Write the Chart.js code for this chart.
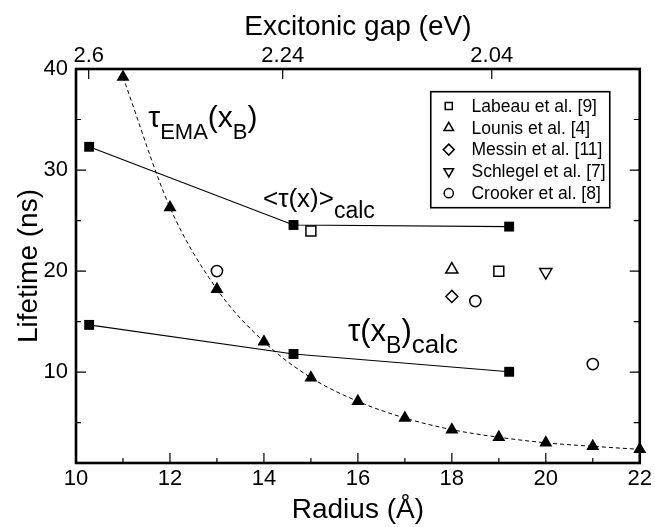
<!DOCTYPE html>
<html>
<head>
<meta charset="utf-8">
<script src="https://cdn.jsdelivr.net/npm/chart.js@4/dist/chart.umd.min.js"></script>
<style>
html,body{margin:0;padding:0;background:#fff;}
#wrap{width:655px;height:527px;position:relative;}
</style>
</head>
<body>
<div id="wrap"><canvas id="c"></canvas></div>
<script>
// ---------- data ----------
const radiusEMA = [11, 12, 13, 14, 15, 16, 17, 18, 19, 20, 21, 22];
const lifetimeEMA = [39.2, 26.3, 18.2, 13.0, 9.45, 7.1, 5.45, 4.3, 3.55, 3.0, 2.65, 2.35];

const radiusCalc = [10.28, 14.63, 19.22];
const lifetimeAvgCalc = [32.3, 24.56, 24.4];
const lifetimeBCalc = [14.67, 11.79, 10.03];

const radiusLabeau = [15, 19];
const lifetimeLabeau = [23.96, 19.98];
const radiusLounis = [18];
const lifetimeLounis = [20.15];
const radiusMessin = [18];
const lifetimeMessin = [17.49];
const radiusSchlegel = [20];
const lifetimeSchlegel = [19.9];
const radiusCrooker = [13, 18.5, 21];
const lifetimeCrooker = [20.0, 17.03, 10.79];

const xTickValues = [10, 12, 14, 16, 18, 20, 22];
const xMinorValues = [11, 13, 15, 17, 19, 21];
const yTickValues = [10, 20, 30, 40];
const yMinorValues = [5, 15, 25, 35];
const gapLabels = ['2.6', '2.24', '2.04'];
const gapRadius = [10.27, 14.40, 18.85];

const legendLabels = ['Labeau et al. [9]', 'Lounis et al. [4]', 'Messin et al. [11]', 'Schlegel et al. [7]', 'Crooker et al. [8]'];

// ---------- presentation ----------
const FONT = '"Liberation Sans", Arial, Helvetica, sans-serif';
const annotations = [
  {x: 11.54, y: 34.24, parts: [['τ', 30, 0], ['EMA', 22, 11.5], ['(x', 30, 0], ['B', 22, 11.5], [')', 30, 0]]},
  {x: 13.98, y: 26.35, parts: [['<τ(x)>', 26, 0], ['calc', 23, 11.5]]},
  {x: 15.79, y: 13.05, parts: [['τ(x', 31, 0], ['B', 23, 11.5], [')', 31, 0], ['calc', 26, 11.5]]}
];

function pts(xs, ys) { return xs.map((x, i) => ({x: x, y: ys[i]})); }

function openSet(label, xs, ys, style, radius, rotation, legendRadius) {
  return {
    label: label, data: pts(xs, ys), showLine: false,
    pointStyle: style, pointRadius: radius, pointRotation: rotation || 0,
    pointBackgroundColor: 'rgba(255,255,255,0)', pointBorderColor: '#000', pointBorderWidth: 1.5,
    clip: false, legendItem: true, legendRadius: legendRadius
  };
}

const datasets = [
  {
    label: 'EMA', data: pts(radiusEMA, lifetimeEMA), showLine: true,
    borderColor: '#000', borderWidth: 1, borderDash: [4, 3], cubicInterpolationMode: 'monotone',
    pointStyle: 'triangle', pointRadius: 7.5, pointBackgroundColor: '#000', pointBorderWidth: 0, clip: false
  },
  {
    label: 'avg calc', data: pts(radiusCalc, lifetimeAvgCalc), showLine: true,
    borderColor: '#000', borderWidth: 1.2, tension: 0,
    pointStyle: 'rect', pointRadius: 7, pointBackgroundColor: '#000', pointBorderWidth: 0, clip: false
  },
  {
    label: 'xB calc', data: pts(radiusCalc, lifetimeBCalc), showLine: true,
    borderColor: '#000', borderWidth: 1.2, tension: 0,
    pointStyle: 'rect', pointRadius: 7, pointBackgroundColor: '#000', pointBorderWidth: 0, clip: false
  },
  openSet(legendLabels[0], radiusLabeau, lifetimeLabeau, 'rect', 7, 0, 5),
  openSet(legendLabels[1], radiusLounis, lifetimeLounis, 'triangle', 7, 0, 5.5),
  openSet(legendLabels[2], radiusMessin, lifetimeMessin, 'rectRot', 6, 0, 5.5),
  openSet(legendLabels[3], radiusSchlegel, lifetimeSchlegel, 'triangle', 7, 180, 5.5),
  openSet(legendLabels[4], radiusCrooker, lifetimeCrooker, 'circle', 5.6, 0, 4.6)
];

const framePlugin = {
  id: 'frame',
  beforeDatasetsDraw(chart) {
    const {ctx, chartArea: a, scales} = chart;
    const xs = scales.x, ys = scales.y, x2 = scales.x2;
    ctx.save();
    ctx.strokeStyle = '#000';
    ctx.lineWidth = 1.2;
    ctx.beginPath();
    xTickValues.forEach(v => { const p = xs.getPixelForValue(v); ctx.moveTo(p, a.bottom); ctx.lineTo(p, a.bottom - 10); });
    xMinorValues.forEach(v => { const p = xs.getPixelForValue(v); ctx.moveTo(p, a.bottom); ctx.lineTo(p, a.bottom - 5); });
    gapRadius.forEach(v => { const p = x2.getPixelForValue(v); ctx.moveTo(p, a.top); ctx.lineTo(p, a.top + 10); });
    yTickValues.forEach(v => { const p = ys.getPixelForValue(v);
      ctx.moveTo(a.left, p); ctx.lineTo(a.left + 10, p); ctx.moveTo(a.right, p); ctx.lineTo(a.right - 10, p); });
    yMinorValues.forEach(v => { const p = ys.getPixelForValue(v);
      ctx.moveTo(a.left, p); ctx.lineTo(a.left + 5, p); ctx.moveTo(a.right, p); ctx.lineTo(a.right - 6, p); });
    ctx.stroke();
    ctx.lineWidth = 2.6;
    ctx.strokeRect(a.left, a.top, a.right - a.left, a.bottom - a.top);
    ctx.restore();
  }
};

const legendPlugin = {
  id: 'boxLegend',
  afterDatasetsDraw(chart) {
    const {ctx, chartArea: a} = chart;
    const items = chart.data.datasets.filter(d => d.legendItem);
    const boxW = 179, boxH = 116;
    const left = a.right - 30 - boxW, top = a.top + 22.7;
    ctx.save();
    ctx.fillStyle = '#fff';
    ctx.fillRect(left, top, boxW, boxH);
    ctx.strokeStyle = '#000';
    ctx.lineWidth = 1.6;
    ctx.strokeRect(left, top, boxW, boxH);
    ctx.font = '17.5px ' + FONT;
    ctx.textBaseline = 'middle';
    ctx.textAlign = 'left';
    items.forEach((d, i) => {
      const cy = top + 14.3 + i * 21.8;
      ctx.fillStyle = 'rgba(255,255,255,0)';
      ctx.strokeStyle = '#000';
      ctx.lineWidth = 1.5;
      const opts = {pointStyle: d.pointStyle, rotation: d.pointRotation, radius: d.legendRadius, borderWidth: 1.5};
      if (Chart.helpers && Chart.helpers.drawPoint) {
        Chart.helpers.drawPoint(ctx, opts, left + 18, cy);
      } else {
        ctx.beginPath(); ctx.arc(left + 18, cy, d.legendRadius, 0, Math.PI * 2); ctx.stroke();
      }
      ctx.fillStyle = '#000';
      ctx.fillText(d.label, left + 40.7, cy + 1);
    });
    ctx.restore();
  }
};

const annotationPlugin = {
  id: 'texts',
  afterDatasetsDraw(chart) {
    const {ctx, scales} = chart;
    ctx.save();
    ctx.fillStyle = '#000';
    ctx.textBaseline = 'alphabetic';
    ctx.textAlign = 'left';
    annotations.forEach(an => {
      let x = scales.x.getPixelForValue(an.x);
      const y = scales.y.getPixelForValue(an.y);
      an.parts.forEach(p => {
        ctx.font = p[1] + 'px ' + FONT;
        ctx.fillText(p[0], x, y + p[2]);
        x += ctx.measureText(p[0]).width;
      });
    });
    ctx.restore();
  }
};

const tickFont = {family: FONT, size: 22};
const titleFont = {family: FONT, size: 28};

new Chart(document.getElementById('c'), {
  type: 'scatter',
  data: {datasets: datasets},
  options: {
    responsive: true,
    maintainAspectRatio: false,
    animation: false,
    events: [],
    layout: {padding: {left: 0, right: 15, top: 0, bottom: 0}},
    plugins: {legend: {display: false}, tooltip: {enabled: false}},
    scales: {
      x: {
        type: 'linear', position: 'bottom', min: 10, max: 22,
        afterBuildTicks: s => { s.ticks = xTickValues.map(v => ({value: v})); },
        afterFit: s => { s.height = 64; },
        ticks: {autoSkip: false, maxRotation: 0, padding: 3, font: tickFont, color: '#000'},
        grid: {display: false, drawTicks: false},
        border: {display: false},
        title: {display: true, text: 'Radius (Å)', font: titleFont, color: '#000', padding: {top: 0, bottom: 0}}
      },
      x2: {
        type: 'linear', position: 'top', min: 10, max: 22,
        afterBuildTicks: s => { s.ticks = gapRadius.map(v => ({value: v})); },
        afterFit: s => { s.height = 69; },
        ticks: {autoSkip: false, maxRotation: 0, padding: 0, font: tickFont, color: '#000',
          callback: (v, i) => gapLabels[i]},
        grid: {display: false, drawTicks: false},
        border: {display: false},
        title: {display: true, text: 'Excitonic gap (eV)', font: titleFont, color: '#000', padding: {top: 10, bottom: 0}}
      },
      y: {
        type: 'linear', position: 'left', min: 1, max: 40,
        afterBuildTicks: s => { s.ticks = yTickValues.map(v => ({value: v})); },
        afterFit: s => { s.width = 76; },
        ticks: {autoSkip: false, padding: 8, font: tickFont, color: '#000'},
        grid: {display: false, drawTicks: false},
        border: {display: false},
        title: {display: true, text: 'Lifetime (ns)', font: titleFont, color: '#000', padding: {top: 12, bottom: 0}}
      }
    }
  },
  plugins: [framePlugin, legendPlugin, annotationPlugin]
});
</script>
</body>
</html>
